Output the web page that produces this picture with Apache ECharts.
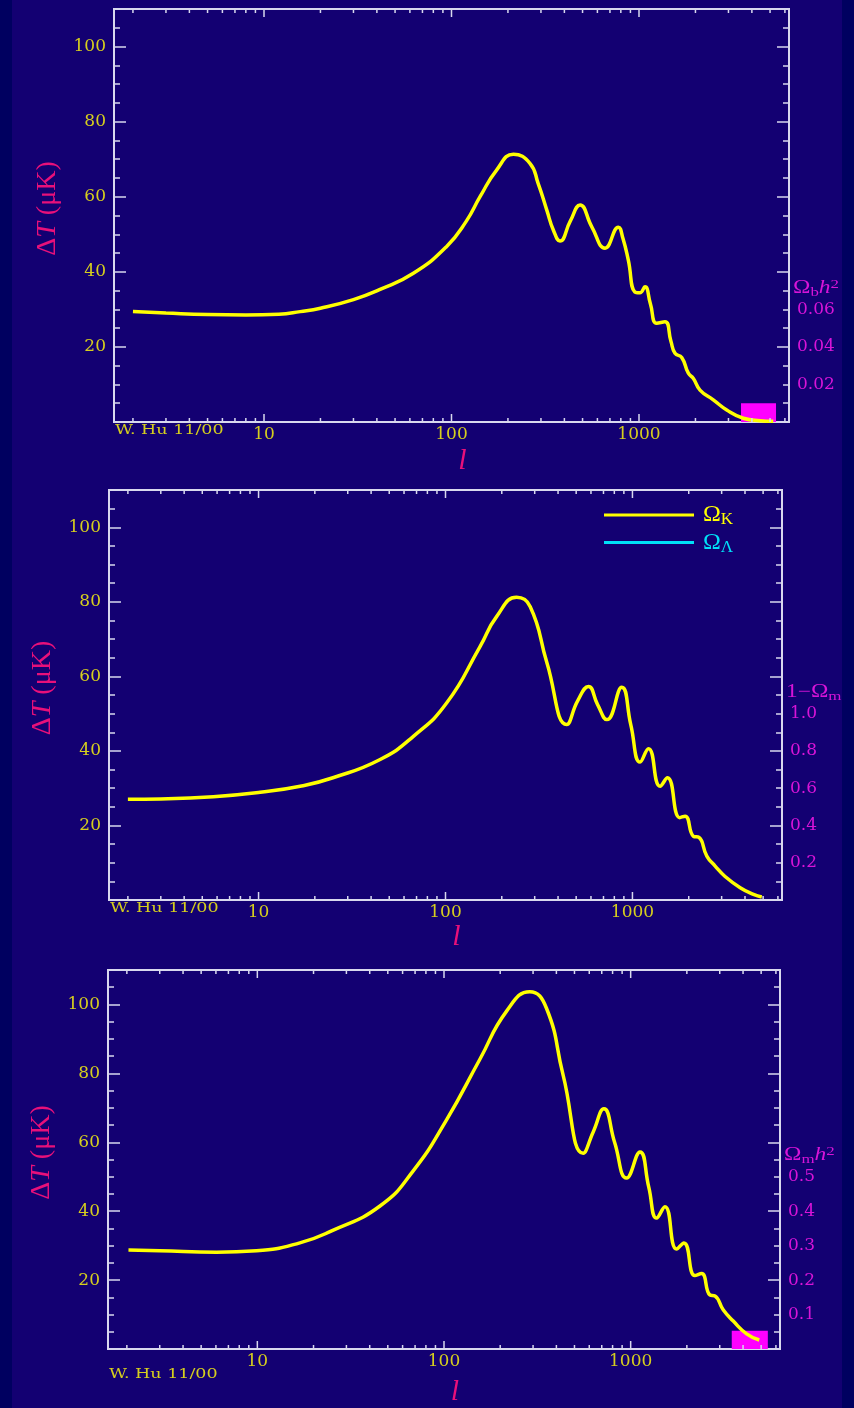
<!DOCTYPE html>
<html><head><meta charset="utf-8">
<script src="https://cdn.jsdelivr.net/npm/echarts@6/dist/echarts.min.js"></script>
<style>html,body{margin:0;padding:0;background:#000060;}#c{width:854px;height:1408px;}</style>
</head><body><div id="c"></div>
<script>
// ---------------- data ----------------
// panel 1 (Omega_b h^2)
const lTop  = [2, 3, 5, 8, 12, 15.6, 20, 30, 41.6, 62.6, 94, 120, 142, 174, 214, 262, 290, 322, 350, 379, 430, 485, 560, 659, 776, 820, 877, 950, 1010, 1076, 1150, 1242, 1376, 1480, 1556, 1690, 1833, 1950, 2115, 2490, 2937, 3600, 4416, 5200];
const dtTop = [29.4, 29.0, 28.6, 28.5, 28.7, 29.4, 30.3, 32.6, 35.3, 39.6, 46.7, 53.5, 60.0, 67.1, 71.3, 68.9, 63.5, 56.5, 51.0, 48.2, 53.5, 57.8, 52.0, 46.3, 51.9, 49.0, 43.1, 34.6, 34.4, 36.0, 31.5, 26.3, 26.7, 21.5, 18.3, 17.2, 13.0, 11.6, 8.5, 5.9, 3.2, 1.0, 0.35, 0.2];
// panel 2 (Omega_K / Omega_Lambda)
const lMid  = [2, 3, 5.73, 10.2, 16.7, 25, 44.7, 67.3, 101.6, 153, 188, 240, 284, 349, 445, 510, 582, 650, 730, 877, 980, 1099, 1218, 1406, 1539, 1791, 1913, 2120, 2270, 2500, 2770, 3130, 3770, 4440, 4920];
const dtMid = [27.0, 27.1, 27.7, 28.9, 30.5, 32.8, 37.7, 43.9, 52.9, 68.0, 76.1, 81.2, 78.7, 63.6, 47.1, 53.5, 57.3, 52.5, 48.4, 57.1, 47.0, 37.0, 40.6, 30.5, 32.8, 22.1, 22.5, 17.1, 16.8, 11.8, 9.1, 6.3, 3.3, 1.5, 0.8];
const dtLambda = []; // Omega_Lambda curve (not visible separately)
// panel 3 (Omega_m h^2)
const lBot  = [2.04, 3, 6.05, 9.9, 16.9, 25, 45.4, 68.4, 103.2, 155.7, 216, 288, 354, 435, 557, 630, 719, 820, 951, 1122, 1250, 1378, 1525, 1762, 1928, 2208, 2398, 2656, 2830, 3130, 3545, 4180, 4885];
const dtBot = [28.7, 28.5, 28.1, 28.5, 30.8, 34.3, 41.5, 51.7, 66.5, 84.1, 98.0, 103.7, 98.9, 79.4, 56.8, 63.0, 69.7, 60.0, 49.6, 57.2, 47.0, 38.0, 41.3, 29.0, 30.8, 21.3, 21.9, 15.7, 15.4, 11.4, 8.1, 4.4, 2.6];
// slider markers [l_from, l_to, height]
const markerTop = [[3500, 5380, 5.0]];
const markerBot = [[3480, 5430, 5.3]];
// tick labels
const xTickLabels = [10, 100, 1000];
const xMinorTicks = [2,3,4,5,6,7,8,9,20,30,40,50,60,70,80,90,200,300,400,500,600,700,800,900,2000,3000,4000,5000,6000];
const yTickLabels = [20, 40, 60, 80, 100];
const paramLabelsTop = ['0.02', '0.04', '0.06'];
const paramLabelsMid = ['0.2', '0.4', '0.6', '0.8', '1.0'];
const paramLabelsBot = ['0.1', '0.2', '0.3', '0.4', '0.5'];
const paramMax = [0.22, 2.2, 1.1];
const paramStep = [0.02, 0.2, 0.1];
const creditText = 'W. Hu 11/00';

// ---------------- styling ----------------
const FONT_NUM = 'DejaVu Serif';
const FONT_TXT = 'Liberation Serif';
const LBL = '#D6CE1E', CURVE = '#FFFF00', CYAN = '#00E0F8', MAG = '#D814D8', RED = '#E8107A', FRAME = '#D8D8EE';
const grids = [
  {left:114, top:9, width:675, height:413},
  {left:109, top:490, width:673, height:410},
  {left:108, top:970, width:672, height:396}
];
const nameGaps = [24, 22, 28];
const LMIN = Math.pow(10, 0.2), LMAX = Math.pow(10, 3.8);
const paramLabels = [paramLabelsTop, paramLabelsMid, paramLabelsBot];

const zip = (a, b) => a.map((v, i) => [v, b[i]]);

const xAxes = [], yAxes = [], series = [];
grids.forEach((gr, g) => {
  xAxes.push({
    type:'log', logBase:10, gridIndex:g, min:LMIN, max:LMAX,
    axisLine:{show:false, onZero:false}, axisTick:{show:false}, splitLine:{show:false},
    axisLabel:{margin:4, color:LBL, fontFamily:FONT_NUM, fontSize:17, hideOverlap:false,
      formatter: v => { const r = Math.round(v); return (Math.abs(v - r) < 1e-6 && xTickLabels.indexOf(r) >= 0) ? String(r) : ''; }},
    name:'l', nameLocation:'middle', nameGap:nameGaps[g],
    nameTextStyle:{color:RED, fontFamily:FONT_TXT, fontStyle:'italic', fontSize:30, padding:[0,0,0,22]}
  });
  const base = {gridIndex:g, type:'value', min:0, max:110, axisLine:{show:false, onZero:false}, splitLine:{show:false}};
  yAxes.push(Object.assign({}, base, {
    interval:20, position:'left',
    axisTick:{show:true, inside:true, length:12, lineStyle:{color:FRAME, width:1.5}},
    axisLabel:{margin:8, color:LBL, fontFamily:FONT_NUM, fontSize:17,
      formatter: v => yTickLabels.indexOf(v) >= 0 ? String(v) : ''},
    name:'{u|Δ}{i|T}{u| (μK)}', nameLocation:'middle', nameRotate:90, nameGap:52,
    nameTextStyle:{color:RED, fontFamily:FONT_TXT, fontSize:28, padding:[0,0,0,14],
      rich:{u:{color:RED, fontFamily:FONT_TXT, fontSize:28}, i:{color:RED, fontFamily:FONT_TXT, fontSize:28, fontStyle:'italic'}}}
  }));
  yAxes.push(Object.assign({}, base, {
    interval:5, position:'left',
    axisTick:{show:true, inside:true, length:6, lineStyle:{color:FRAME, width:1.5}}, axisLabel:{show:false}
  }));
  yAxes.push(Object.assign({}, base, {
    interval:20, position:'right',
    axisTick:{show:true, inside:true, length:12, lineStyle:{color:FRAME, width:1.5}}, axisLabel:{show:false}
  }));
  yAxes.push(Object.assign({}, base, {
    interval:5, position:'right',
    axisTick:{show:true, inside:true, length:6, lineStyle:{color:FRAME, width:1.5}}, axisLabel:{show:false}
  }));
  yAxes.push({
    gridIndex:g, type:'value', min:0, max:paramMax[g], interval:paramStep[g], position:'right',
    axisLine:{show:false}, axisTick:{show:false}, splitLine:{show:false},
    axisLabel:{margin:8, color:MAG, fontFamily:FONT_NUM, fontSize:17,
      formatter: v => paramLabels[g].find(s => Math.abs(parseFloat(s) - v) < 1e-9) || ''}
  });
  // x ticks (bottom & top), positioned through the log scale
  series.push({
    type:'custom', name:'xticks' + g, xAxisIndex:g, yAxisIndex:g*5, silent:true, z:6, clip:false,
    data: xTickLabels.concat(xMinorTicks).map(v => [v, 0]),
    renderItem: (params, api) => {
      const v = api.value(0);
      const len = xTickLabels.indexOf(v) >= 0 ? 8 : 4;
      const b = api.coord([v, 0]), t = api.coord([v, 110]);
      const st = {stroke:FRAME, lineWidth:1.5};
      return {type:'group', children:[
        {type:'line', shape:{x1:b[0], y1:b[1], x2:b[0], y2:b[1] - len}, style:st},
        {type:'line', shape:{x1:t[0], y1:t[1], x2:t[0], y2:t[1] + len}, style:st}
      ]};
    }
  });
});

function markerSeries(g, data) {
  return {
    type:'custom', name:'marker' + g, xAxisIndex:g, yAxisIndex:g*5, silent:true, z:1,
    data: data,
    renderItem: (params, api) => {
      const p0 = api.coord([api.value(0), 0]);
      const p1 = api.coord([api.value(1), api.value(2)]);
      return {type:'rect', shape:{x:p0[0], y:p1[1], width:p1[0] - p0[0], height:p0[1] - p1[1]}, style:{fill:'#FF00FF'}};
    }
  };
}
series.push(markerSeries(0, markerTop));
series.push(markerSeries(2, markerBot));

const lineStyle = {color:CURVE, width:3.5};
const SM = 0.5;
series.push({type:'line', name:'Ωbh2', xAxisIndex:0, yAxisIndex:0, data:zip(lTop, dtTop), smooth:SM, showSymbol:false, lineStyle, itemStyle:{color:CURVE}, z:3});
series.push({type:'line', name:'ΩΛ', xAxisIndex:1, yAxisIndex:5, data:dtLambda, smooth:SM, showSymbol:false, lineStyle:{color:CYAN, width:3.5}, itemStyle:{color:CYAN}, z:3});
series.push({type:'line', name:'ΩK', xAxisIndex:1, yAxisIndex:5, data:zip(lMid, dtMid), smooth:SM, showSymbol:false, lineStyle, itemStyle:{color:CURVE}, z:3});
series.push({type:'line', name:'Ωmh2', xAxisIndex:2, yAxisIndex:10, data:zip(lBot, dtBot), smooth:SM, showSymbol:false, lineStyle, itemStyle:{color:CURVE}, z:3});

const chart = echarts.init(document.getElementById('c'), null, {renderer:'canvas'});
chart.setOption({
  animation:false,
  backgroundColor:'#130072',
  grid: grids.map(gr => Object.assign({show:true, borderColor:FRAME, borderWidth:2, backgroundColor:'transparent'}, gr)),
  xAxis:xAxes, yAxis:yAxes, series:series,
  legend:{
    data:[{name:'ΩK', textStyle:{color:CURVE}}, {name:'ΩΛ', textStyle:{color:CYAN}}],
    orient:'vertical', left:599, top:498, itemWidth:90, itemHeight:3, itemGap:2, icon:'rect',
    selectedMode:false,
    formatter: n => '{o|Ω}{s|' + n.slice(1) + '}',
    textStyle:{fontFamily:FONT_TXT, fontSize:22,
      rich:{o:{fontFamily:FONT_TXT, fontSize:24, padding:[0,0,0,4]}, s:{fontFamily:FONT_TXT, fontSize:17, padding:[10,0,0,0]}}}
  }
});

// right-axis titles and credits
const paramTitles = ['{a|Ω}{b|b}{c|h}{d|2}', '{a|1−Ω}{b|m}', '{a|Ω}{b|m}{c|h}{d|2}'];
const titleRich = {
  a:{fontFamily:FONT_TXT, fontSize:18, color:MAG},
  b:{fontFamily:FONT_TXT, fontSize:13, padding:[8,0,0,0], color:MAG},
  c:{fontFamily:FONT_TXT, fontSize:18, fontStyle:'italic', color:MAG},
  d:{fontFamily:FONT_TXT, fontSize:13, padding:[0,0,8,0], color:MAG}
};
const gfx = [];
grids.forEach((gr, g) => {
  gfx.push({type:'text', x:gr.left + 1, y:gr.top + gr.height + 2, scaleX:1.4, silent:true,
    style:{text:creditText, fill:LBL, fontFamily:FONT_NUM, fontSize:12.5, verticalAlign:'top'}});
  const lbls = paramLabels[g];
  const py = chart.convertToPixel({yAxisIndex:g*5 + 4}, parseFloat(lbls[lbls.length - 1]));
  gfx.push({type:'text', x:gr.left + gr.width + 4, y:py - 21, scaleX:1.3, silent:true,
    style:{text:paramTitles[g], rich:titleRich, fill:MAG, verticalAlign:'middle'}});
});
gfx.push({type:'rect', left:0, top:0, shape:{width:12, height:1408}, style:{fill:'#000060'}, z:100, silent:true});
gfx.push({type:'rect', left:842, top:0, shape:{width:12, height:1408}, style:{fill:'#000060'}, z:100, silent:true});
chart.setOption({graphic:gfx});
</script></body></html>
